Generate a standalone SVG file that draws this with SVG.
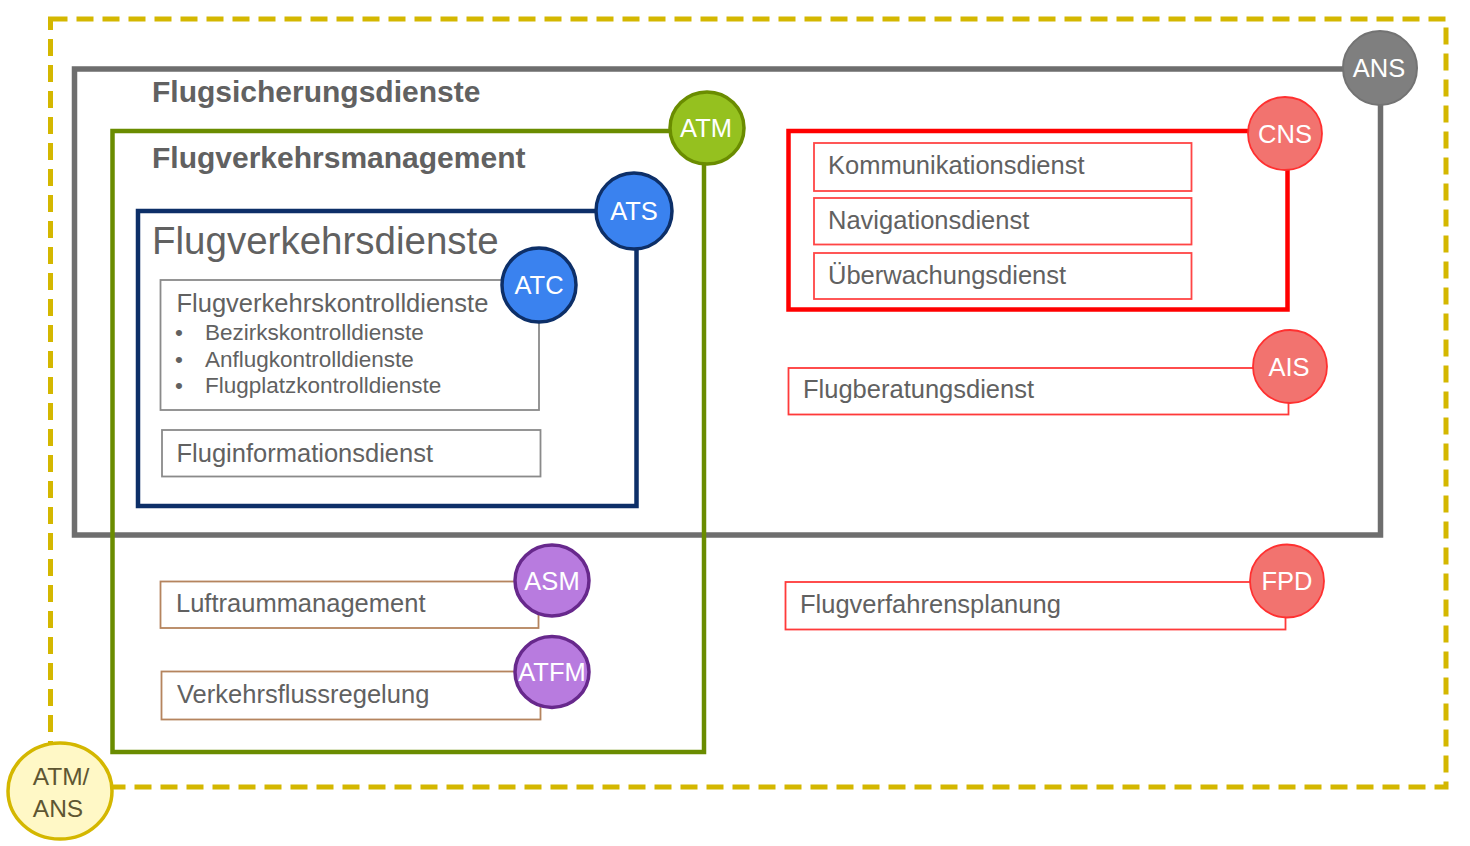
<svg xmlns="http://www.w3.org/2000/svg" width="1470" height="846" viewBox="0 0 1470 846">
<style>
text{font-family:"Liberation Sans",Arial,sans-serif;fill:#616161}
.h1{font-weight:bold;font-size:30px}
.box{font-size:25.5px}
.sub{font-size:22.5px}
.lab{font-size:25.5px;fill:#ffffff;text-anchor:middle}
.frame{fill:none}
.svc{fill:#ffffff;stroke-width:1.8}
</style>
<rect width="1470" height="846" fill="#ffffff"/>

<g id="atm-ans">
  <rect class="frame" x="50.5" y="19" width="1395.5" height="768" stroke="#D4B700" stroke-width="5" stroke-dasharray="17 9"/>
  <ellipse cx="60" cy="791" rx="52" ry="48" fill="#FFF8C6" stroke="#D4B700" stroke-width="3.5"/>
  <text x="61" y="785" text-anchor="middle" style="font-size:24.5px;fill:#5E5632">ATM/</text>
  <text x="58" y="817" text-anchor="middle" style="font-size:24.5px;fill:#5E5632">ANS</text>
</g>

<g id="ans">
  <rect class="frame" x="74.5" y="69" width="1306" height="466" stroke="#6E6E6E" stroke-width="5.5"/>
  <text class="h1" x="152" y="102">Flugsicherungsdienste</text>
  <ellipse cx="1380" cy="68" rx="37" ry="37" fill="#7F7F7F" stroke="#737373" stroke-width="2"/>
  <text class="lab" x="1379" y="77">ANS</text>
</g>

<g id="atm">
  <rect class="frame" x="112.5" y="131" width="591.5" height="621" stroke="#6A8C00" stroke-width="4.5"/>
  <text class="h1" x="152" y="168">Flugverkehrsmanagement</text>
  <ellipse cx="707" cy="128" rx="37" ry="36" fill="#95C11F" stroke="#6A8C00" stroke-width="3.5"/>
  <text class="lab" x="706" y="137">ATM</text>
</g>

<g id="ats">
  <rect class="frame" x="138" y="211" width="498.5" height="295" stroke="#0D2F68" stroke-width="4.5"/>
  <text x="152" y="254" style="font-size:38.5px">Flugverkehrsdienste</text>
  <ellipse cx="634" cy="211" rx="38" ry="38" fill="#3A82EF" stroke="#0D2F68" stroke-width="3.5"/>
  <text class="lab" x="634" y="220">ATS</text>
</g>

<g id="atc">
  <rect class="svc" x="160.5" y="280" width="378.5" height="130" stroke="#8A8A8A"/>
  <text class="box" x="176.5" y="311.5">Flugverkehrskontrolldienste</text>
  <text class="sub" x="175" y="340">•</text>
  <text class="sub" x="205" y="340">Bezirkskontrolldienste</text>
  <text class="sub" x="175" y="367">•</text>
  <text class="sub" x="205" y="367">Anflugkontrolldienste</text>
  <text class="sub" x="175" y="393">•</text>
  <text class="sub" x="205" y="393">Flugplatzkontrolldienste</text>
  <ellipse cx="539" cy="285" rx="37" ry="37" fill="#3A82EF" stroke="#0D2F68" stroke-width="3.5"/>
  <text class="lab" x="539" y="294">ATC</text>
</g>

<g id="fis">
  <rect class="svc" x="162" y="430" width="378.5" height="46.5" stroke="#8A8A8A"/>
  <text class="box" x="176.5" y="461.5">Fluginformationsdienst</text>
</g>

<g id="cns">
  <rect class="frame" x="788.5" y="131" width="499" height="178.5" stroke="#FF0000" stroke-width="4.5"/>
  <rect class="svc" x="814" y="143" width="377.5" height="48" stroke="#FF4545"/>
  <text class="box" x="828" y="174">Kommunikationsdienst</text>
  <rect class="svc" x="814" y="198" width="377.5" height="46.5" stroke="#FF4545"/>
  <text class="box" x="828" y="229">Navigationsdienst</text>
  <rect class="svc" x="814" y="253" width="377.5" height="46" stroke="#FF4545"/>
  <text class="box" x="828" y="284">Überwachungsdienst</text>
  <ellipse cx="1285" cy="133.5" rx="37" ry="36.5" fill="#F2736F" stroke="#FF3030" stroke-width="1.8"/>
  <text class="lab" x="1285" y="143">CNS</text>
</g>

<g id="ais">
  <rect class="svc" x="788.5" y="368" width="500" height="46.5" stroke="#FF3A3A"/>
  <text class="box" x="803" y="398">Flugberatungsdienst</text>
  <ellipse cx="1290" cy="366.5" rx="37" ry="36.5" fill="#F2736F" stroke="#FF3030" stroke-width="1.8"/>
  <text class="lab" x="1289" y="376">AIS</text>
</g>

<g id="fpd">
  <rect class="svc" x="785.5" y="582" width="500" height="47.5" stroke="#FF3A3A"/>
  <text class="box" x="800" y="613">Flugverfahrensplanung</text>
  <ellipse cx="1287" cy="581" rx="37" ry="36.5" fill="#F2736F" stroke="#FF3030" stroke-width="1.8"/>
  <text class="lab" x="1287" y="590">FPD</text>
</g>

<g id="asm">
  <rect class="svc" x="160.5" y="581.5" width="378" height="46.5" stroke="#B5845E"/>
  <text class="box" x="176" y="611.5">Luftraummanagement</text>
  <ellipse cx="552" cy="580.5" rx="37" ry="35.5" fill="#B87BDF" stroke="#67288C" stroke-width="3.5"/>
  <text class="lab" x="552" y="589.5">ASM</text>
</g>

<g id="atfm">
  <rect class="svc" x="161.5" y="671.5" width="379" height="48" stroke="#B5845E"/>
  <text class="box" x="177" y="703">Verkehrsflussregelung</text>
  <ellipse cx="552" cy="672" rx="37" ry="35.5" fill="#B87BDF" stroke="#67288C" stroke-width="3.5"/>
  <text class="lab" x="552" y="681">ATFM</text>
</g>

<g id="connectors"></g>
</svg>
